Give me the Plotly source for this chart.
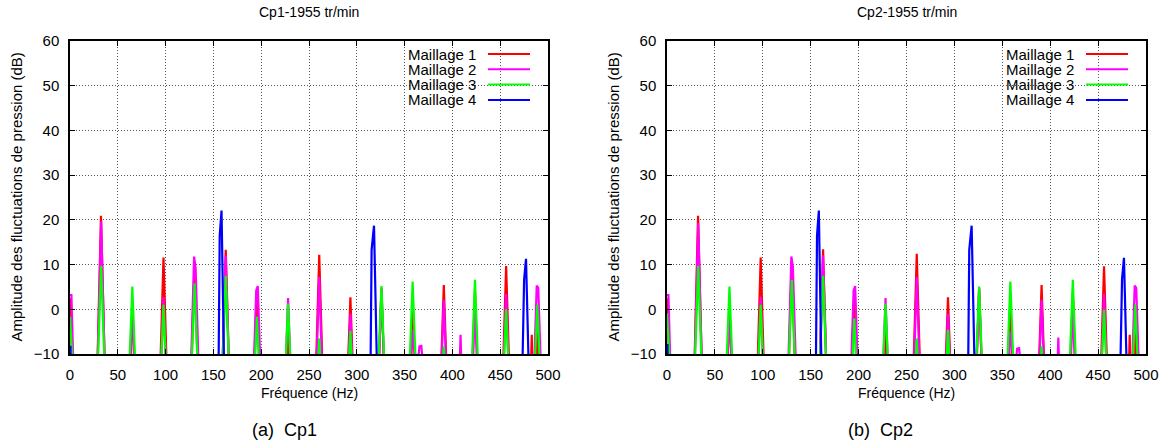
import plotly.graph_objects as go

W, H = 1162, 446

series_names = ["Maillage 1", "Maillage 2", "Maillage 3", "Maillage 4"]
series_colors = ["#ff0000", "#ff00ff", "#00ff00", "#0000ff"]
chart_titles = ["Cp1-1955 tr/min", "Cp2-1955 tr/min"]
captions = ["(a)  Cp1", "(b)  Cp2"]
x_title = "Fréquence (Hz)"
y_title = "Amplitude des fluctuations de pression (dB)"
x_ticks = [0, 50, 100, 150, 200, 250, 300, 350, 400, 450, 500]
y_ticks = [-10, 0, 10, 20, 30, 40, 50, 60]

# Maillage 1 (red)
m1_freq = [0, 7,
           25.6, 32.4, 39.6,
           58.2, 65.2, 72.2,
           90.8, 97.8, 104.8,
           123.3, 130.3, 137.3,
           155.9, 162.9, 169.9,
           188.5, 195.5, 202.5,
           221.1, 228.1, 235.1,
           253.7, 260.7, 267.7,
           286.3, 293.3, 300.3,
           318.8, 325.8, 332.8,
           351.4, 358.4, 365.4,
           384.0, 391.0, 398.0,
           416.6, 423.6, 430.6,
           449.2, 456.2, 463.2,
           479.0, 483.0, 486.0, 488.8, 495.8, 500]
m1_cp1_db = [2.5, -40,
             -40, 20.9, -40,
             -40, 0.0, -40,
             -40, 11.6, -40,
             -40, 10.5, -40,
             -40, 13.3, -40,
             -40, 4.0, -40,
             -40, -3.9, -40,
             -40, 12.2, -40,
             -40, 2.7, -40,
             -40, 4.5, -40,
             -40, 1.3, -40,
             -40, 5.4, -40,
             -40, 4.0, -40,
             -40, 9.7, -40,
             -40, -5.7, -40, -0.9, -40, -40]
m1_cp2_db = [2.5, -40,
             -40, 20.9, -40,
             -40, 0.0, -40,
             -40, 11.6, -40,
             -40, 10.5, -40,
             -40, 13.4, -40,
             -40, 4.0, -40,
             -40, -3.7, -40,
             -40, 12.4, -40,
             -40, 2.7, -40,
             -40, 4.5, -40,
             -40, 1.7, -40,
             -40, 5.4, -40,
             -40, 3.6, -40,
             -40, 9.6, -40,
             -40, -5.7, -40, -1.1, -40, -40]

# Maillage 2 (magenta)
m2_freq = [0, 1.5, 7,
           25.6, 32.6, 39.6,
           58.2, 65.2, 72.2,
           90.8, 97.8, 104.8,
           123.0, 129.8, 131.4, 138.4,
           155.9, 162.9, 169.9,
           188.0, 194.8, 196.4, 203.4,
           221.1, 228.1, 235.1,
           253.7, 260.7, 267.7,
           286.3, 293.3, 300.3,
           318.8, 325.8, 332.8,
           351.4, 358.4, 363.0, 365.5, 367.5, 370.0,
           384.0, 391.0, 398.0,
           404.0, 408.5, 413.0,
           416.6, 423.6, 430.6,
           449.2, 456.2, 463.2,
           481.5, 488.2, 489.8, 496.8, 500]
m2_cp1_db = [3.2, 3.2, -40,
             -40, 19.6, -40,
             -40, 0.7, -40,
             -40, 2.7, -40,
             -40, 11.8, 9.2, -40,
             -40, 12.0, -40,
             -40, 4.2, 5.2, -40,
             -40, 2.5, -40,
             -40, 7.2, -40,
             -40, -1.0, -40,
             -40, 4.8, -40,
             -40, -4.6, -14, -8.3, -8.2, -14,
             -40, 2.1, -40,
             -40, -5.7, -40,
             -40, 0.6, -40,
             -40, 3.4, -40,
             -40, 5.3, 4.8, -40, -40]
m2_cp2_db = [3.2, 3.2, -40,
             -40, 19.3, -40,
             -40, 0.7, -40,
             -40, 2.7, -40,
             -40, 11.8, 9.5, -40,
             -40, 12.0, -40,
             -40, 4.2, 5.2, -40,
             -40, 2.5, -40,
             -40, 7.2, -40,
             -40, -1.0, -40,
             -40, 4.8, -40,
             -40, -5.0, -14, -8.8, -8.7, -14,
             -40, 2.1, -40,
             -40, -6.3, -40,
             -40, 0.6, -40,
             -40, 3.4, -40,
             -40, 5.3, 4.8, -40, -40]

# Maillage 3 (green)
m3_freq = [0, 10,
           24.6, 32.6, 40.6,
           57.2, 65.2, 73.2,
           89.8, 97.8, 105.8,
           122.3, 130.3, 138.3,
           154.9, 162.9, 170.9,
           187.5, 195.5, 203.5,
           220.1, 228.1, 236.1,
           252.7, 260.7, 268.7,
           285.3, 293.3, 301.3,
           317.8, 325.8, 333.8,
           350.4, 358.4, 366.4,
           383.0, 391.0, 399.0,
           415.6, 423.6, 431.6,
           448.2, 456.2, 464.2,
           480.8, 488.8, 496.8, 500]
m3_cp1_db = [-1.6, -40,
             -40, 9.7, -40,
             -40, 5.1, -40,
             -40, 1.0, -40,
             -40, 5.8, -40,
             -40, 7.5, -40,
             -40, -1.6, -40,
             -40, 1.3, -40,
             -40, -6.5, -40,
             -40, -4.8, -40,
             -40, 5.2, -40,
             -40, 6.2, -40,
             -40, -8.2, -40,
             -40, 6.6, -40,
             -40, 0.0, -40,
             -40, 1.0, -40, -40]
m3_cp2_db = [-0.9, -40,
             -40, 9.7, -40,
             -40, 5.1, -40,
             -40, 1.0, -40,
             -40, 6.6, -40,
             -40, 7.5, -40,
             -40, -2.0, -40,
             -40, 1.3, -40,
             -40, -6.5, -40,
             -40, -4.6, -40,
             -40, 5.1, -40,
             -40, 6.2, -40,
             -40, -8.2, -40,
             -40, 6.6, -40,
             -40, -0.1, -40,
             -40, 1.0, -40, -40]

# Maillage 4 (blue)
m4_freq = [0, 0.5, 2,
           154.3, 156.6, 158.5, 163.3,
           313.2, 315.5, 318.0, 323.7,
           470.8, 475.0, 477.0, 483.0, 500]
m4_cp1_db = [-8.4, -8.4, -40,
             -40, 16.5, 22.1, -40,
             -40, 13.3, 18.7, -40,
             -40, 6.6, 11.3, -40, -40]
m4_cp2_db = [-8.0, -8.0, -40,
             -40, 16.5, 22.1, -40,
             -40, 13.3, 18.7, -40,
             -40, 6.8, 11.5, -40, -40]

freqs = [m1_freq, m2_freq, m3_freq, m4_freq]
cp1 = [m1_cp1_db, m2_cp1_db, m3_cp1_db, m4_cp1_db]
cp2 = [m1_cp2_db, m2_cp2_db, m3_cp2_db, m4_cp2_db]

# plot areas in pixels (left, right, top, bottom)
areas = [(70, 548, 41, 354), (667, 1146, 41, 354)]
FONT = "Liberation Sans, Arial, sans-serif"


def px(x):
    return x / W


def py(y):
    return 1 - y / H


fig = go.Figure()
for k, data in enumerate([cp1, cp2]):
    sfx = "" if k == 0 else "2"
    for f, d, name, col in zip(freqs, data, series_names, series_colors):
        fig.add_trace(go.Scatter(x=f, y=d, mode="lines", name=name,
                                 line=dict(color=col, width=2.2),
                                 xaxis="x" + sfx, yaxis="y" + sfx,
                                 showlegend=False, hoverinfo="skip"))

axis_common = dict(showline=True, linecolor="black", linewidth=1.5,
                   mirror="ticks", ticks="inside", ticklen=5, tickwidth=1,
                   tickcolor="black", showgrid=True, gridcolor="#555555",
                   griddash="1px,2px", gridwidth=1, zeroline=False,
                   automargin=False,
                   tickfont=dict(family=FONT, size=15, color="black"))

layout = dict(width=W, height=H, margin=dict(l=0, r=0, t=0, b=0, pad=0),
              autosize=False, template="none",
              paper_bgcolor="white", plot_bgcolor="white", showlegend=False)
shapes = []
annotations = []
for k, (l, r, t, b) in enumerate(areas):
    sfx = "" if k == 0 else "2"
    layout["xaxis" + sfx] = dict(domain=[px(l), px(r)], range=[0, 500],
                                 tickvals=x_ticks, anchor="y" + sfx,
                                 ticklabelstandoff=6, **axis_common)
    layout["yaxis" + sfx] = dict(domain=[py(b), py(t)], range=[-10, 60],
                                 tickvals=y_ticks, anchor="x" + sfx,
                                 ticklabelstandoff=6, **axis_common)
    cx = (l + r) / 2
    annotations.append(dict(text=chart_titles[k], x=px(cx), y=py(12),
                            xref="paper", yref="paper", showarrow=False,
                            xanchor="center", yanchor="middle",
                            font=dict(family=FONT, size=14, color="black")))
    annotations.append(dict(text=x_title, x=px(cx), y=py(393),
                            xref="paper", yref="paper", showarrow=False,
                            xanchor="center", yanchor="middle",
                            font=dict(family=FONT, size=14, color="black")))
    annotations.append(dict(text=y_title, x=px(l - 54), y=py((t + b) / 2),
                            xref="paper", yref="paper", showarrow=False,
                            textangle=-90, xanchor="center", yanchor="middle",
                            font=dict(family=FONT, size=15, color="black")))
    cap_x = [284, 880][k]
    annotations.append(dict(text=captions[k], x=px(cap_x), y=py(430),
                            xref="paper", yref="paper", showarrow=False,
                            xanchor="center", yanchor="middle",
                            font=dict(family=FONT, size=18, color="black")))
    # legend box (white) and entries
    shapes.append(dict(type="rect", xref="paper", yref="paper",
                       x0=px(r - 164), x1=px(r - 10), y0=py(106), y1=py(44),
                       fillcolor="white", line=dict(width=0), layer="between"))
    for i, (name, col) in enumerate(zip(series_names, series_colors)):
        yy = 54 + i * 15.3
        annotations.append(dict(text=name, x=px(r - 70), y=py(yy),
                                xref="paper", yref="paper", showarrow=False,
                                xanchor="right", yanchor="middle",
                                font=dict(family=FONT, size=15, color="black")))
        shapes.append(dict(type="line", xref="paper", yref="paper",
                           x0=px(r - 60), x1=px(r - 18), y0=py(yy), y1=py(yy),
                           line=dict(color=col, width=2)))

layout["shapes"] = shapes
layout["annotations"] = annotations
fig.update_layout(**layout)
fig.write_html("out.html",
               config={"displayModeBar": False},
               post_script="document.body.style.margin='0';"
                           "document.body.style.overflow='hidden';")
